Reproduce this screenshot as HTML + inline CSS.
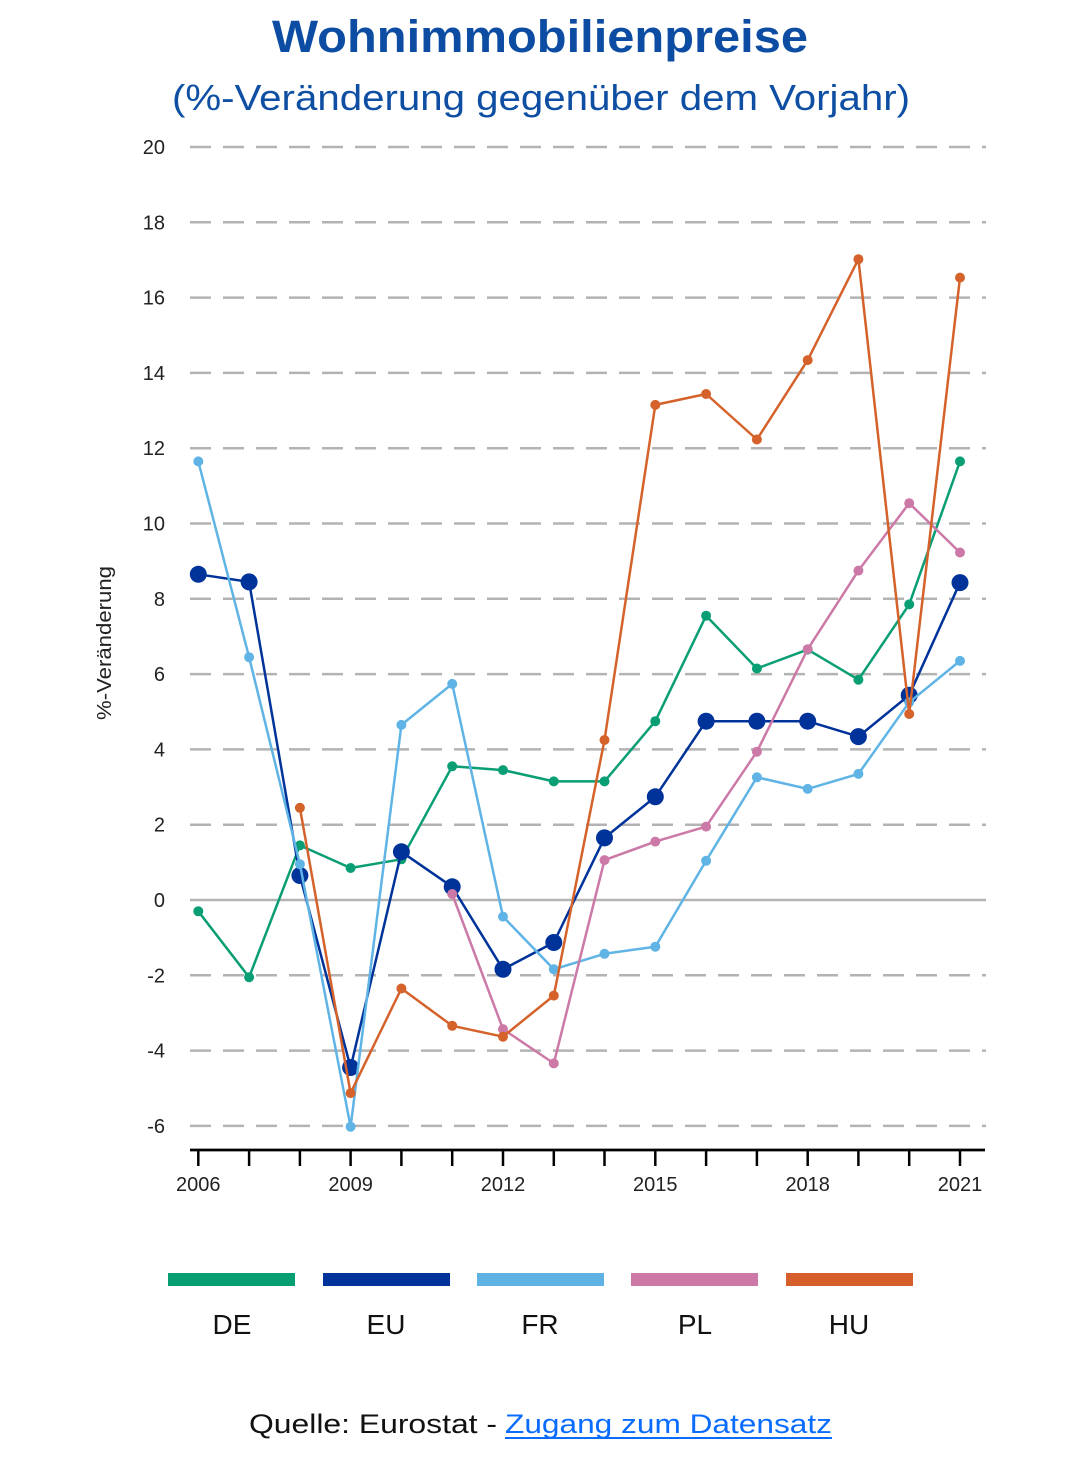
<!DOCTYPE html>
<html>
<head>
<meta charset="utf-8">
<style>
html,body{margin:0;padding:0;background:#fff;}
svg{display:block;}
text{font-family:"Liberation Sans",sans-serif;}
</style>
</head>
<body>
<svg width="1080" height="1461" viewBox="0 0 1080 1461" xmlns="http://www.w3.org/2000/svg">
<rect width="1080" height="1461" fill="#fff"/>
<!-- Titles -->
<text x="540" y="52" text-anchor="middle" font-size="45" font-weight="bold" fill="#0c4ca3" textLength="536" lengthAdjust="spacingAndGlyphs">Wohnimmobilienpreise</text>
<text x="541" y="110" text-anchor="middle" font-size="36" fill="#0e4fa3" textLength="738" lengthAdjust="spacingAndGlyphs">(%-Veränderung gegenüber dem Vorjahr)</text>

<!-- Grid -->
<g stroke="#b3b3b3" stroke-width="2.5" stroke-dasharray="21 12" fill="none">
<line x1="190" y1="147" x2="986" y2="147"/>
<line x1="190" y1="222.3" x2="986" y2="222.3"/>
<line x1="190" y1="297.6" x2="986" y2="297.6"/>
<line x1="190" y1="372.9" x2="986" y2="372.9"/>
<line x1="190" y1="448.2" x2="986" y2="448.2"/>
<line x1="190" y1="523.5" x2="986" y2="523.5"/>
<line x1="190" y1="598.8" x2="986" y2="598.8"/>
<line x1="190" y1="674.1" x2="986" y2="674.1"/>
<line x1="190" y1="749.4" x2="986" y2="749.4"/>
<line x1="190" y1="824.7" x2="986" y2="824.7"/>
<line x1="190" y1="975.3" x2="986" y2="975.3"/>
<line x1="190" y1="1050.6" x2="986" y2="1050.6"/>
<line x1="190" y1="1125.9" x2="986" y2="1125.9"/>
</g>
<line x1="190" y1="900" x2="986" y2="900" stroke="#b3b3b3" stroke-width="2.5"/>

<!-- Y tick labels -->
<g font-size="20" fill="#222" text-anchor="end">
<text x="165" y="154">20</text>
<text x="165" y="229.3">18</text>
<text x="165" y="304.6">16</text>
<text x="165" y="379.9">14</text>
<text x="165" y="455.2">12</text>
<text x="165" y="530.5">10</text>
<text x="165" y="605.8">8</text>
<text x="165" y="681.1">6</text>
<text x="165" y="756.4">4</text>
<text x="165" y="831.7">2</text>
<text x="165" y="907">0</text>
<text x="165" y="982.3">-2</text>
<text x="165" y="1057.6">-4</text>
<text x="165" y="1132.9">-6</text>
</g>
<text x="111" y="643" font-size="20" fill="#222" text-anchor="middle" transform="rotate(-90 111 643)" textLength="154" lengthAdjust="spacingAndGlyphs">%-Veränderung</text>

<!-- X axis -->
<line x1="190" y1="1150" x2="985" y2="1150" stroke="#000" stroke-width="2.7"/>
<g stroke="#000" stroke-width="2.5">
<line x1="198.3" y1="1150" x2="198.3" y2="1166"/>
<line x1="249.1" y1="1150" x2="249.1" y2="1166"/>
<line x1="299.9" y1="1150" x2="299.9" y2="1166"/>
<line x1="350.6" y1="1150" x2="350.6" y2="1166"/>
<line x1="401.4" y1="1150" x2="401.4" y2="1166"/>
<line x1="452.2" y1="1150" x2="452.2" y2="1166"/>
<line x1="503.0" y1="1150" x2="503.0" y2="1166"/>
<line x1="553.8" y1="1150" x2="553.8" y2="1166"/>
<line x1="604.5" y1="1150" x2="604.5" y2="1166"/>
<line x1="655.3" y1="1150" x2="655.3" y2="1166"/>
<line x1="706.1" y1="1150" x2="706.1" y2="1166"/>
<line x1="756.9" y1="1150" x2="756.9" y2="1166"/>
<line x1="807.7" y1="1150" x2="807.7" y2="1166"/>
<line x1="858.4" y1="1150" x2="858.4" y2="1166"/>
<line x1="909.2" y1="1150" x2="909.2" y2="1166"/>
<line x1="960.0" y1="1150" x2="960.0" y2="1166"/>
</g>
<g font-size="20" fill="#222" text-anchor="middle">
<text x="198.3" y="1191">2006</text>
<text x="350.6" y="1191">2009</text>
<text x="503.0" y="1191">2012</text>
<text x="655.3" y="1191">2015</text>
<text x="807.7" y="1191">2018</text>
<text x="960.0" y="1191">2021</text>
</g>

<!-- DE -->
<g fill="#0a9e74">
<polyline fill="none" stroke="#0a9e74" stroke-width="2.5" stroke-linejoin="round" points="198.3,911.3 249.1,977.2 299.9,845.4 350.6,868.0 401.4,859.3 452.2,766.3 503.0,770.1 553.8,781.4 604.5,781.4 655.3,721.2 706.1,615.7 756.9,668.5 807.7,649.6 858.4,679.7 909.2,604.4 960.0,461.4"/>
<circle cx="198.3" cy="911.3" r="5"/><circle cx="249.1" cy="977.2" r="5"/><circle cx="299.9" cy="845.4" r="5"/><circle cx="350.6" cy="868.0" r="5"/><circle cx="401.4" cy="859.3" r="5"/><circle cx="452.2" cy="766.3" r="5"/><circle cx="503.0" cy="770.1" r="5"/><circle cx="553.8" cy="781.4" r="5"/><circle cx="604.5" cy="781.4" r="5"/><circle cx="655.3" cy="721.2" r="5"/><circle cx="706.1" cy="615.7" r="5"/><circle cx="756.9" cy="668.5" r="5"/><circle cx="807.7" cy="649.6" r="5"/><circle cx="858.4" cy="679.7" r="5"/><circle cx="909.2" cy="604.4" r="5"/><circle cx="960.0" cy="461.4" r="5"/>
</g>

<!-- EU -->
<g fill="#00339a">
<polyline fill="none" stroke="#00339a" stroke-width="2.5" stroke-linejoin="round" points="198.3,574.3 249.1,581.9 299.9,875.5 350.6,1067.5 401.4,851.8 452.2,886.8 503.0,969.3 553.8,942.5 604.5,837.9 655.3,796.8 706.1,721.2 756.9,721.2 807.7,721.2 858.4,736.6 909.2,695.2 960.0,582.6"/>
<circle cx="198.3" cy="574.3" r="8.5"/><circle cx="249.1" cy="581.9" r="8.5"/><circle cx="299.9" cy="875.5" r="8.5"/><circle cx="350.6" cy="1067.5" r="8.5"/><circle cx="401.4" cy="851.8" r="8.5"/><circle cx="452.2" cy="886.8" r="8.5"/><circle cx="503.0" cy="969.3" r="8.5"/><circle cx="553.8" cy="942.5" r="8.5"/><circle cx="604.5" cy="837.9" r="8.5"/><circle cx="655.3" cy="796.8" r="8.5"/><circle cx="706.1" cy="721.2" r="8.5"/><circle cx="756.9" cy="721.2" r="8.5"/><circle cx="807.7" cy="721.2" r="8.5"/><circle cx="858.4" cy="736.6" r="8.5"/><circle cx="909.2" cy="695.2" r="8.5"/><circle cx="960.0" cy="582.6" r="8.5"/>
</g>

<!-- FR -->
<g fill="#5fb4e5">
<polyline fill="none" stroke="#5fb4e5" stroke-width="2.5" stroke-linejoin="round" points="198.3,461.4 249.1,657.2 299.9,864.2 350.6,1126.7 401.4,724.9 452.2,683.9 503.0,916.6 553.8,969.3 604.5,953.8 655.3,946.7 706.1,860.8 756.9,777.3 807.7,788.9 858.4,773.9 909.2,702.3 960.0,660.9"/>
<circle cx="198.3" cy="461.4" r="5"/><circle cx="249.1" cy="657.2" r="5"/><circle cx="299.9" cy="864.2" r="5"/><circle cx="350.6" cy="1126.7" r="5"/><circle cx="401.4" cy="724.9" r="5"/><circle cx="452.2" cy="683.9" r="5"/><circle cx="503.0" cy="916.6" r="5"/><circle cx="553.8" cy="969.3" r="5"/><circle cx="604.5" cy="953.8" r="5"/><circle cx="655.3" cy="946.7" r="5"/><circle cx="706.1" cy="860.8" r="5"/><circle cx="756.9" cy="777.3" r="5"/><circle cx="807.7" cy="788.9" r="5"/><circle cx="858.4" cy="773.9" r="5"/><circle cx="909.2" cy="702.3" r="5"/><circle cx="960.0" cy="660.9" r="5"/>
</g>

<!-- PL -->
<g fill="#cc79a7">
<polyline fill="none" stroke="#cc79a7" stroke-width="2.5" stroke-linejoin="round" points="452.2,894.0 503.0,1029.1 553.8,1063.4 604.5,860.1 655.3,841.6 706.1,826.6 756.9,751.7 807.7,649.2 858.4,570.6 909.2,503.2 960.0,552.5"/>
<circle cx="452.2" cy="894.0" r="5"/><circle cx="503.0" cy="1029.1" r="5"/><circle cx="553.8" cy="1063.4" r="5"/><circle cx="604.5" cy="860.1" r="5"/><circle cx="655.3" cy="841.6" r="5"/><circle cx="706.1" cy="826.6" r="5"/><circle cx="756.9" cy="751.7" r="5"/><circle cx="807.7" cy="649.2" r="5"/><circle cx="858.4" cy="570.6" r="5"/><circle cx="909.2" cy="503.2" r="5"/><circle cx="960.0" cy="552.5" r="5"/>
</g>

<!-- HU -->
<g fill="#d4622a">
<polyline fill="none" stroke="#d4622a" stroke-width="2.5" stroke-linejoin="round" points="299.9,807.8 350.6,1093.1 401.4,988.5 452.2,1025.8 503.0,1036.7 553.8,995.6 604.5,740.0 655.3,404.9 706.1,394.0 756.9,439.5 807.7,360.1 858.4,259.2 909.2,714.0 960.0,277.6"/>
<circle cx="299.9" cy="807.8" r="5"/><circle cx="350.6" cy="1093.1" r="5"/><circle cx="401.4" cy="988.5" r="5"/><circle cx="452.2" cy="1025.8" r="5"/><circle cx="503.0" cy="1036.7" r="5"/><circle cx="553.8" cy="995.6" r="5"/><circle cx="604.5" cy="740.0" r="5"/><circle cx="655.3" cy="404.9" r="5"/><circle cx="706.1" cy="394.0" r="5"/><circle cx="756.9" cy="439.5" r="5"/><circle cx="807.7" cy="360.1" r="5"/><circle cx="858.4" cy="259.2" r="5"/><circle cx="909.2" cy="714.0" r="5"/><circle cx="960.0" cy="277.6" r="5"/>
</g>

<!-- Legend -->
<rect x="168" y="1273" width="127" height="13" fill="#079e72"/>
<rect x="323" y="1273" width="127" height="13" fill="#003399"/>
<rect x="477" y="1273" width="127" height="13" fill="#5eb3e4"/>
<rect x="631" y="1273" width="127" height="13" fill="#cc79a7"/>
<rect x="786" y="1273" width="127" height="13" fill="#d55e2b"/>
<g font-size="28" fill="#111" text-anchor="middle">
<text x="232" y="1334">DE</text>
<text x="386" y="1334">EU</text>
<text x="540" y="1334">FR</text>
<text x="695" y="1334">PL</text>
<text x="849" y="1334">HU</text>
</g>

<!-- Source -->
<text x="249" y="1433" font-size="27" fill="#111" textLength="248" lengthAdjust="spacingAndGlyphs">Quelle: Eurostat -</text>
<text x="505" y="1433" font-size="27" fill="#0a6cff" textLength="327" lengthAdjust="spacingAndGlyphs">Zugang zum Datensatz</text>
<line x1="505" y1="1438" x2="832" y2="1438" stroke="#0a6cff" stroke-width="2"/>
</svg>
</body>
</html>
